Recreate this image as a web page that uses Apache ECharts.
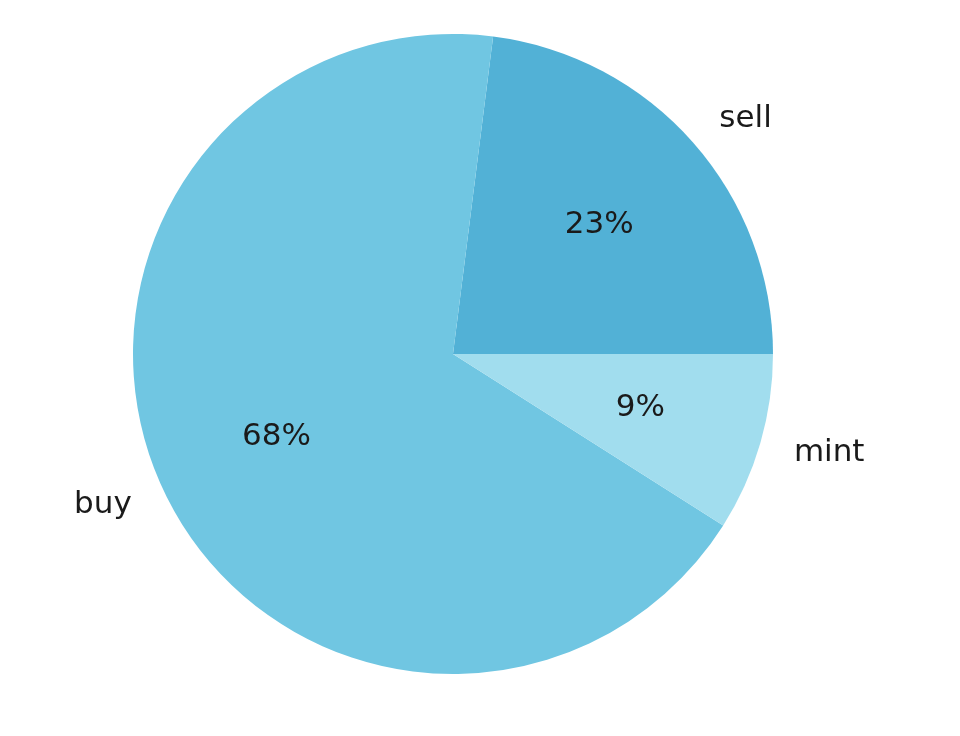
<!DOCTYPE html>
<html><head><meta charset="utf-8">
<script src="https://cdn.jsdelivr.net/npm/echarts@6/dist/echarts.min.js"></script>
<style>html,body{margin:0;padding:0;background:#fff}#c{width:960px;height:736px}</style>
</head><body><div id="c"></div>
<script>
const categories = ['sell', 'buy', 'mint'];
const values = [23, 68, 9];
const colors = ['#52b1d6', '#70c6e2', '#a1ddee'];
const nameAlign = ['left', 'right', 'left'];

const R = 320;
const center = [453, 354];
const fontFamily = 'DejaVu Sans';
const fontSize = 31;

const ctx = document.createElement('canvas').getContext('2d');
ctx.font = fontSize + 'px "' + fontFamily + '"';
function textW(s) { return ctx.measureText(s).width; }

const chart = echarts.init(document.getElementById('c'), null, {renderer: 'canvas'});
const total = values.reduce((a, b) => a + b, 0);

const base = {
  type: 'pie', center: center, startAngle: 0, clockwise: false,
  animation: false, emphasis: {disabled: true}, labelLine: {show: false}
};

chart.setOption({
  backgroundColor: '#ffffff',
  series: [
    Object.assign({}, base, {
      radius: [0, R],
      data: categories.map((c, i) => ({name: c, value: values[i], itemStyle: {color: colors[i]}})),
      label: {show: false},
      itemStyle: {borderWidth: 0}
    }),
    Object.assign({}, base, {
      radius: [0, R * 1.2], silent: true,
      data: categories.map((c, i) => ({name: c, value: values[i], itemStyle: {color: 'rgba(0,0,0,0)'}})),
      label: {
        show: true, position: 'inside', color: '#1a1a1a', fontFamily: fontFamily, fontSize: fontSize,
        formatter: p => Math.round(p.value / total * 100) + '%'
      }
    }),
    Object.assign({}, base, {
      radius: [0, R * 2.2], silent: true,
      data: categories.map((c, i) => ({name: c, value: values[i], itemStyle: {color: 'rgba(0,0,0,0)'},
        label: {offset: [(nameAlign[i] === 'left' ? 1 : -1) * textW(c) / 2, 0]}})),
      label: {
        show: true, position: 'inside', color: '#1a1a1a', fontFamily: fontFamily, fontSize: fontSize,
        formatter: p => p.name
      }
    })
  ]
});
</script></body></html>
